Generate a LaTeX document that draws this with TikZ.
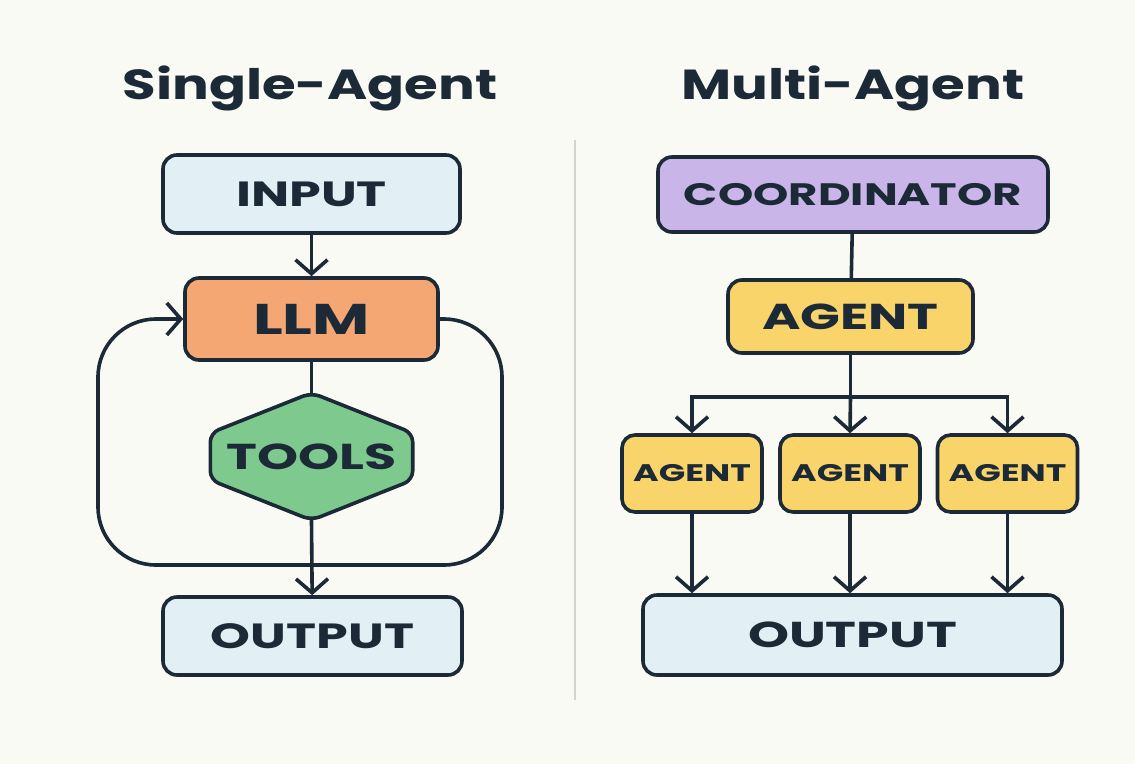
\documentclass[tikz,border=0pt]{standalone}
\usepackage{fontspec}
\setmainfont{Poppins}[FakeStretch=1.3]
\newfontfamily\boxfont{Poppins}[FakeStretch=1.45]
\usetikzlibrary{arrows.meta}

\definecolor{bg}{HTML}{FAFAF5}
\definecolor{ink}{HTML}{1C2937}
\definecolor{inbox}{HTML}{E2EFF5}
\definecolor{llmfill}{HTML}{F4A673}
\definecolor{toolfill}{HTML}{7ECA8E}
\definecolor{coordfill}{HTML}{CAB5E8}
\definecolor{agentfill}{HTML}{F8D46A}
\definecolor{divider}{HTML}{D2D2D0}

\tikzset{
  box/.style={draw=ink, line width=3.6pt, rounded corners=14pt, inner sep=0pt,
              text=ink},
  conn/.style={draw=ink, line width=3.6pt},
  arr/.style={conn, -{Straight Barb[length=14pt,width=32pt]}},
  heading/.style={text=ink, font=\bfseries\fontsize{42}{46}\selectfont},
  lbl/.style={font=\boxfont\bfseries\fontsize{#1}{#1}\selectfont},
}

\begin{document}
\begin{tikzpicture}[x=1pt,y=-1pt]
  % canvas
  \fill[bg] (0,0) rectangle (1135,764);
  \useasboundingbox (0,0) rectangle (1135,764);

  % headings
  \node[heading] (tsingle) at (310,88) {Single-Agent};
  \node[heading] (tmulti) at (853,88) {Multi-Agent};

  % divider between the two panels
  \coordinate (dtop) at (575,140);
  \coordinate (dbot) at (575,700);
  \draw[divider, line width=2pt] (dtop) -- (dbot);

  % ---------- single agent ----------
  \node[box, fill=inbox, minimum width=297pt, minimum height=78pt, lbl=35] (in) at (311.5,194) {INPUT};
  \node[box, fill=llmfill, minimum width=253pt, minimum height=82pt, lbl=43] (llm) at (311.5,319) {LLM};
  \node[inner sep=0pt, minimum width=202pt, minimum height=127pt] (tools) at (311.5,456.5) {};
  \draw[conn, fill=toolfill, rounded corners=9pt]
    (tools.north) -- (tools.east |- 0,433) -- (tools.east |- 0,480) --
    (tools.south) -- (tools.west |- 0,480) -- (tools.west |- 0,433) -- cycle;
  \node[text=ink, lbl=36] (toolstxt) at (tools.center) {TOOLS};
  \node[box, fill=inbox, minimum width=299pt, minimum height=78pt, lbl=35] (out1) at (312.5,636) {OUTPUT};

  \draw[arr] (in) -- (llm);
  \draw[conn] (llm) -- (tools.north);
  \draw[arr] (tools.south) -- (out1);

  % feedback loop around the LLM and its tools
  \coordinate (lr) at (502,319);
  \coordinate (lbr) at (502,565);
  \coordinate (lbl) at (98,565);
  \coordinate (ll) at (98,319);
  \draw[arr, rounded corners=58pt] (llm.east) -- (lr) -- (lbr) -- (lbl) -- (ll) -- (llm.west);

  % ---------- multi agent ----------
  \node[box, fill=coordfill, minimum width=390pt, minimum height=75pt, lbl=31] (coord) at (853,194.5) {COORDINATOR};
  \node[box, fill=agentfill, minimum width=245pt, minimum height=73pt, lbl=36] (agent) at (850.5,316.5) {AGENT};
  \tikzset{small/.style={box, fill=agentfill, minimum width=140pt, minimum height=77pt,
        rounded corners=13pt, lbl=24}}
  \node[small] (a1) at (692,473.5) {AGENT};
  \node[small] (a2) at (850,473.5) {AGENT};
  \node[small] (a3) at (1007.5,473.5) {AGENT};
  \node[box, fill=inbox, minimum width=419pt, minimum height=80pt, lbl=36] (out2) at (852.5,635) {OUTPUT};

  \draw[conn] (coord) -- (agent);
  \coordinate (split) at (850.5,397);
  \draw[conn] (agent) -- (split);
  \draw[arr] (split) -| (a1.north);
  \draw[arr] (split) -- (a2.north);
  \draw[arr] (split) -| (a3.north);
  \foreach \a in {a1,a2,a3}
    \draw[arr] (\a.south) -- (\a.south |- out2.north);
\end{tikzpicture}
\end{document}
